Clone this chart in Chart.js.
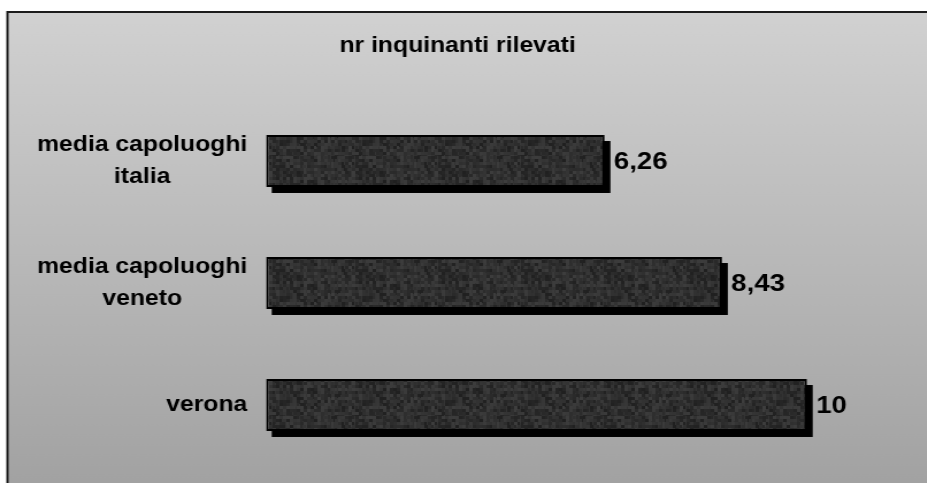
<!DOCTYPE html>
<html>
<head>
<meta charset="utf-8">
<script src="https://cdn.jsdelivr.net/npm/chart.js@4/dist/chart.umd.min.js"></script>
<style>
  html, body { margin: 0; padding: 0; background: #fff; overflow: hidden; width: 927px; height: 483px; }
  /* the drawing is laid out in a narrower box and widened, giving the broad lettering */
  #c { display: block; transform: scaleX(1.15); transform-origin: 0 0; }
</style>
</head>
<body>
<canvas id="c" width="806" height="483"></canvas>
<script>
const chartTitle = 'nr inquinanti rilevati';
const categories = [['media capoluoghi', 'italia'], ['media capoluoghi', 'veneto'], ['verona']];
const values = [6.26, 8.43, 10];
const axisMax = 12;

const FONT = "'Liberation Sans', Arial, Helvetica, sans-serif";

function formatValue(v) {
  return String(v).replace('.', ',');
}

// dark mottled fill for the bars (deterministic speckle)
function makeTexture(ctx) {
  const t = document.createElement('canvas');
  t.width = 72; t.height = 52;
  const g = t.getContext('2d');
  let s = 12345;
  const next = () => { s = (s * 16807) % 2147483647; return s / 2147483647; };
  g.fillStyle = '#333333';
  g.fillRect(0, 0, t.width, t.height);
  for (let y = 0; y < t.height; y += 3) {
    for (let x = 0; x < t.width; x += 3) {
      const v = 32 + Math.floor(next() * 30);
      g.fillStyle = `rgb(${v},${v},${v})`;
      g.fillRect(x, y, 2 + Math.floor(next() * 4), 3 + Math.floor(next() * 4));
    }
  }
  return ctx.createPattern(t, 'repeat');
}

const framePlugin = {
  id: 'frame',
  beforeDraw(chart) {
    const { ctx, width, height } = chart;
    ctx.save();
    ctx.fillStyle = '#ffffff';
    ctx.fillRect(0, 0, width, height);
    const g = ctx.createLinearGradient(0, 12, 0, height);
    g.addColorStop(0, '#d1d1d1');
    g.addColorStop(1, '#a2a2a2');
    ctx.fillStyle = g;
    ctx.fillRect(6.5, 12, width, height);
    ctx.strokeStyle = '#1c1c1c';
    ctx.lineWidth = 2;
    ctx.beginPath();
    ctx.moveTo(6.5, height + 5);
    ctx.lineTo(6.5, 12);
    ctx.lineTo(width + 5, 12);
    ctx.stroke();
    ctx.restore();
  }
};

const shadowPlugin = {
  id: 'barShadow',
  beforeDatasetsDraw(chart) {
    const { ctx } = chart;
    const meta = chart.getDatasetMeta(0);
    ctx.save();
    ctx.fillStyle = '#000';
    meta.data.forEach(bar => {
      const p = bar.getProps(['x', 'y', 'base', 'height'], true);
      ctx.fillRect(p.base + 5, p.y - p.height / 2 + 6, p.x - p.base, p.height);
    });
    ctx.restore();
  }
};

const labelPlugin = {
  id: 'barLabels',
  afterDatasetsDraw(chart) {
    const { ctx } = chart;
    const meta = chart.getDatasetMeta(0);
    const yScale = chart.scales.y;
    ctx.save();
    ctx.fillStyle = '#000';
    ctx.textBaseline = 'middle';

    // value at the end of each bar
    ctx.font = `bold 24px ${FONT}`;
    ctx.textAlign = 'left';
    meta.data.forEach((bar, i) => {
      const p = bar.getProps(['x', 'y'], true);
      ctx.fillText(formatValue(values[i]), p.x + 8, p.y + 1);
    });

    // category names: block right-aligned, lines centred within it
    ctx.font = `bold 21.5px ${FONT}`;
    ctx.textAlign = 'center';
    const rightEdge = 215;
    const lineGap = 31.3;
    categories.forEach((lines, i) => {
      const cy = yScale.getPixelForValue(i);
      const w = Math.max(...lines.map(l => ctx.measureText(l).width));
      const cx = rightEdge - w / 2;
      const y0 = cy - (lines.length - 1) * lineGap / 2;
      lines.forEach((l, k) => ctx.fillText(l, cx, y0 + k * lineGap));
    });
    ctx.restore();
  }
};

const canvas = document.getElementById('c');
const ctx = canvas.getContext('2d');

new Chart(ctx, {
  type: 'bar',
  data: {
    labels: categories,
    datasets: [{
      data: values,
      backgroundColor: makeTexture(ctx),
      borderColor: '#000',
      borderWidth: 2,
      borderSkipped: false,
      barPercentage: 0.426,
      categoryPercentage: 1
    }]
  },
  options: {
    indexAxis: 'y',
    responsive: false,
    animation: false,
    layout: { padding: { top: 0, left: 0, right: 10.2, bottom: 17 } },
    scales: {
      x: { type: 'linear', min: 0, max: axisMax, display: false },
      y: {
        type: 'category',
        grid: { display: false },
        border: { display: false },
        ticks: { display: false },
        afterFit(scale) { scale.width = 231.3; }
      }
    },
    plugins: {
      legend: { display: false },
      tooltip: { enabled: false },
      title: {
        display: true,
        text: chartTitle,
        color: '#000',
        font: { family: FONT, size: 21.5, weight: 'bold', lineHeight: 1.2 },
        padding: { top: 33.5, bottom: 40.7 }
      }
    }
  },
  plugins: [framePlugin, shadowPlugin, labelPlugin]
});
</script>
</body>
</html>
